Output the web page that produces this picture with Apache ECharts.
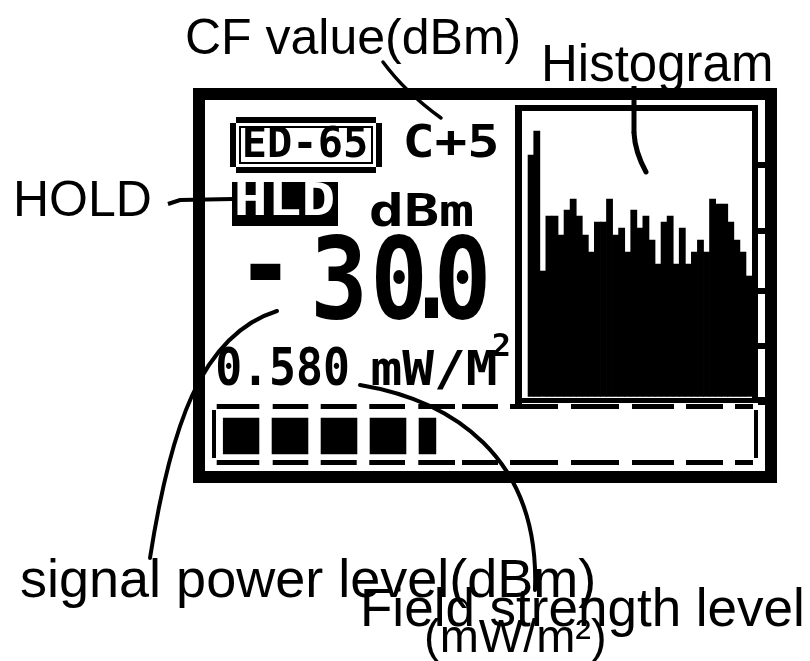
<!DOCTYPE html>
<html>
<head>
<meta charset="utf-8">
<script src="https://cdn.jsdelivr.net/npm/echarts@6/dist/echarts.min.js"></script>
<style>
html,body{margin:0;padding:0;background:#ffffff;}
#chart{width:810px;height:661px;}
</style>
</head>
<body>
<div id="chart"></div>
<script>
// ---- data ----
const histogramBins = ['1','2','3','4','5','6','7','8','9','10','11','12','13','14','15','16','17','18','19','20','21','22','23','24','25','26','27','28','29','30','31','32','33','34','35','36','37'];
const histogramLevels = [242,266,126,181,181,162,187,198,181,162,145,175,175,198,162,169,145,187,169,181,157,133,175,181,133,169,133,145,157,145,198,193,193,175,157,145,121];
const histogramMax = 300;
const signalCategory = ['level'];
const signalBlocks = [4.46];
const signalScaleMax = 11;
const annotationLabels = ['CF value(dBm)', 'Histogram', 'HOLD', 'signal power level(dBm)', 'Field strength level', '(mW/m²)'];
const lcdLabels = ['ED-65', 'C+5', 'HLD', 'dBm', '-', '3', '0', '.', '0', '0.580', 'mW/M', '2'];

// ---- styling helpers ----
const ANN = '"Liberation Sans", Arial, sans-serif';
const LCD = '"DejaVu Sans Mono", monospace';
function txt(str, x, y, size, family, o) {
  o = o || {};
  return {
    type: 'text', x: x, y: y, z: o.z || 50, scaleX: o.sx || 1, scaleY: o.sy || 1,
    style: {
      text: str,
      font: (o.bold ? 'bold ' : '') + size + 'px ' + family,
      fill: o.fill || '#000',
      textAlign: o.align || 'left', align: o.align || 'left',
      textVerticalAlign: 'middle', verticalAlign: 'middle'
    }
  };
}
function box(x, y, w, h, fill, z) {
  return { type: 'rect', z: z || 10, shape: { x: x, y: y, width: w, height: h }, style: { fill: fill || '#000' } };
}
function curve(shape, w, z) {
  return { type: 'bezierCurve', z: z || 80, shape: shape, style: { stroke: '#000', lineWidth: w, fill: null, lineCap: 'round' } };
}
const dashPattern = [42.6,13.4,35.6,12.4,36,12.6,35.7,13.3,36.7,7,36,12,48,13,48,13,42,12,37,12,18,0];

const graphics = [
  // outer LCD frame
  box(193, 88, 584, 12), box(193, 471, 584, 12), box(193, 88, 12, 395), box(765, 88, 12, 395),
  // histogram panel
  box(515, 105, 7, 300), box(515, 105, 243, 6), box(752, 105, 6, 298), box(515, 398, 243, 5),
  box(758, 162, 7, 6), box(758, 228, 7, 6), box(758, 288, 7, 6), box(758, 343, 7, 6), box(758, 397, 7, 8),
  // ED-65 box
  box(236, 117, 140, 6), box(236, 167, 140, 6), box(230, 123, 6, 44), box(376, 123, 6, 44),
  { type: 'rect', z: 10, shape: { x: 240, y: 127, width: 132, height: 36 }, style: { fill: null, stroke: '#000', lineWidth: 2 } },
  // HLD box
  box(232, 182, 106, 44),
  // level bar dashed box
  box(212, 410, 4, 48), box(754, 410, 4, 48),
  { type: 'polyline', z: 10, shape: { points: [[216.7, 406.5], [753, 406.5]] },
    style: { stroke: '#000', lineWidth: 5, lineDash: dashPattern } },
  { type: 'polyline', z: 10, shape: { points: [[216.7, 462.5], [753, 462.5]] },
    style: { stroke: '#000', lineWidth: 5, lineDash: dashPattern } },

  // LCD texts
  txt(lcdLabels[0], 305, 146.5, 42, LCD, { bold: true, align: 'center' }),
  txt(lcdLabels[1], 451, 146, 44, LCD, { bold: true, align: 'center', sx: 1.22 }),
  txt(lcdLabels[2], 284.5, 203.5, 45, LCD, { bold: true, align: 'center', sx: 1.25, fill: '#fff' }),
  txt(lcdLabels[3], 421.5, 214, 45, LCD, { bold: true, align: 'center', sx: 1.3 }),
  txt(lcdLabels[4], 265.5, 275, 114, LCD, { bold: true, align: 'center', sx: 0.85 }),
  txt(lcdLabels[5], 339, 288.5, 114, LCD, { bold: true, align: 'center', sx: 0.84 }),
  txt(lcdLabels[6], 399, 288.5, 114, LCD, { bold: true, align: 'center', sx: 0.84 }),
  txt(lcdLabels[7], 431.5, 288.5, 114, LCD, { bold: true, align: 'center', sx: 0.7 }),
  txt(lcdLabels[8], 462.5, 288.5, 114, LCD, { bold: true, align: 'center', sx: 0.84 }),
  txt(lcdLabels[9], 282.5, 371, 52, LCD, { bold: true, align: 'center', sx: 0.86 }),
  txt(lcdLabels[10], 434, 372.5, 48, LCD, { bold: true, align: 'center', sx: 1.1 }),
  txt(lcdLabels[11], 501.5, 348, 32, LCD, { bold: true, align: 'center' }),

  // annotation texts
  txt(annotationLabels[0], 185, 40, 50, ANN),
  txt(annotationLabels[1], 541, 67, 51, ANN),
  txt(annotationLabels[2], 13, 202, 50, ANN),
  txt(annotationLabels[3], 20, 582, 54, ANN),
  txt(annotationLabels[4], 360, 611, 53, ANN),
  txt(annotationLabels[5], 424, 639, 47, ANN),

  // leader lines
  curve({ x1: 383, y1: 62, cpx1: 405, cpy1: 92, x2: 441, y2: 118 }, 3.5),
  { type: 'line', z: 80, shape: { x1: 634, y1: 86, x2: 634, y2: 133 }, style: { stroke: '#000', lineWidth: 5 } },
  curve({ x1: 634, y1: 133, cpx1: 635, cpy1: 152, x2: 646, y2: 172 }, 5),
  { type: 'polyline', z: 80, shape: { points: [[168, 204], [180, 200], [233, 199]] }, style: { stroke: '#000', lineWidth: 4, fill: null } },
  curve({ x1: 277, y1: 311, cpx1: 200, cpy1: 335, cpx2: 170, cpy2: 430, x2: 150, y2: 558 }, 4),
  curve({ x1: 360, y1: 385, cpx1: 450, cpy1: 400, cpx2: 540, cpy2: 455, x2: 535, y2: 590 }, 4)
];

const chart = echarts.init(document.getElementById('chart'), null, { renderer: 'canvas' });
chart.setOption({
  animation: false,
  backgroundColor: '#ffffff',
  grid: [
    { left: 527.7, top: 96.7, width: 224.3, height: 300, containLabel: false },
    { left: 222.7, top: 417.7, width: 526.6, height: 36.6, containLabel: false }
  ],
  xAxis: [
    { gridIndex: 0, type: 'category', data: histogramBins, show: false, boundaryGap: true },
    { gridIndex: 1, type: 'value', min: 0, max: signalScaleMax, show: false }
  ],
  yAxis: [
    { gridIndex: 0, type: 'value', min: 0, max: histogramMax, show: false },
    { gridIndex: 1, type: 'category', data: signalCategory, show: false }
  ],
  series: [
    {
      type: 'bar', xAxisIndex: 0, yAxisIndex: 0, data: histogramLevels,
      barWidth: 6.8, barGap: '0%',
      itemStyle: { color: '#000' },
      silent: true
    },
    {
      type: 'pictorialBar', xAxisIndex: 1, yAxisIndex: 1, data: signalBlocks,
      symbol: 'rect', symbolRepeat: signalScaleMax, symbolBoundingData: signalScaleMax,
      symbolClip: true, symbolSize: [36.6, 36.6], symbolMargin: 0,
      itemStyle: { color: '#000' }, silent: true
    }
  ],
  graphic: { elements: graphics }
});
</script>
</body>
</html>
